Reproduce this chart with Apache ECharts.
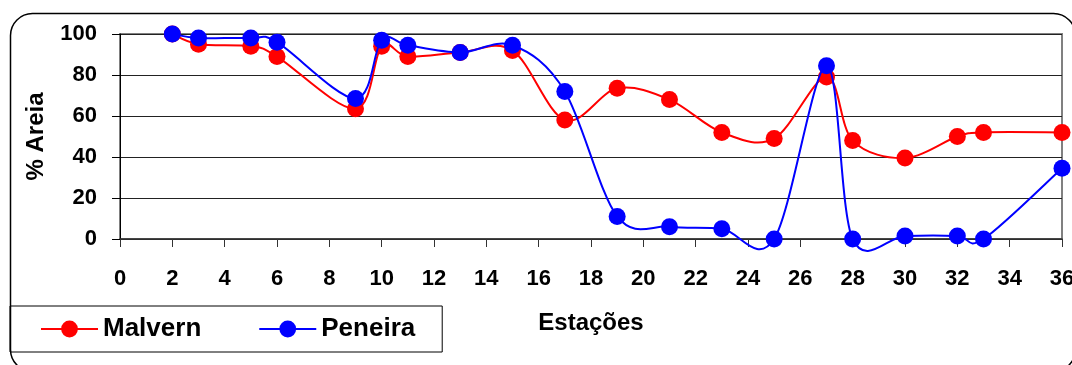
<!DOCTYPE html>
<html>
<head>
<meta charset="utf-8">
<script src="https://cdn.jsdelivr.net/npm/echarts@6/dist/echarts.min.js"></script>
<style>
  html, body { margin: 0; padding: 0; background: #fff; }
  #chart { width: 1072px; height: 365px; }
</style>
</head>
<body>
<div id="chart"></div>
<script>
// Sampling stations along the transect
const stations = [2, 3, 5, 6, 9, 10, 11, 13, 15, 17, 19, 21, 23, 25, 27, 28, 30, 32, 33, 36];
// Sand percentage by laser diffraction (Malvern)
const malvern = [100, 95, 94, 89, 63.5, 94, 89, 91, 92, 58, 73.5, 68, 52, 49, 79, 48, 39.5, 50, 52, 52];
// Sand percentage by sieving (Peneira)
const peneira = [100, 98, 98, 96, 68.5, 97, 94.5, 91, 94.5, 72, 11, 6, 5, 0, 84.5, 0, 1.5, 1.5, 0, 34.5];

const seriesNames = ['Malvern', 'Peneira'];
const colors = ['#ff0000', '#0000ff'];
const xTitle = 'Estações';
const yTitle = '% Areia';

const FONT = '"Liberation Sans", Arial, sans-serif';

function pairs(xs, ys) {
  return xs.map((x, i) => [x, ys[i]]);
}

// Catmull-Rom style smoothing: each data item draws the cubic segment
// to the next station, with control points from its neighbours (in pixels).
function smoothSegmentRenderer(values, color) {
  return function (params, api) {
    const i = params.dataIndex;
    const n = stations.length;
    if (i >= n - 1) return null;
    const pt = (j) => api.coord([stations[Math.max(0, Math.min(n - 1, j))], values[Math.max(0, Math.min(n - 1, j))]]);
    const p0 = pt(i - 1), p1 = pt(i), p2 = pt(i + 1), p3 = pt(i + 2);
    const k = 1 / 6;
    return {
      type: 'bezierCurve',
      shape: {
        x1: p1[0], y1: p1[1],
        x2: p2[0], y2: p2[1],
        cpx1: p1[0] + (p2[0] - p0[0]) * k,
        cpy1: p1[1] + (p2[1] - p0[1]) * k,
        cpx2: p2[0] - (p3[0] - p1[0]) * k,
        cpy2: p2[1] - (p3[1] - p1[1]) * k
      },
      style: { stroke: color, lineWidth: 2, fill: null }
    };
  };
}

const chart = echarts.init(document.getElementById('chart'), null, { renderer: 'canvas' });

chart.setOption({
  animation: false,
  backgroundColor: '#fff',
  graphic: [{
    type: 'rect',
    z: -10,
    shape: { x: 10.5, y: 13.5, width: 1065, height: 358, r: 22 },
    style: { fill: 'none', stroke: '#000', lineWidth: 1.5 }
  }],
  grid: {
    left: 120, right: 10, top: 34, bottom: 126,
    containLabel: false,
    outerBoundsMode: 'none',
    show: true,
    borderColor: '#808080',
    borderWidth: 2,
    backgroundColor: 'transparent'
  },
  legend: {
    left: 10,
    top: 306,
    orient: 'horizontal',
    padding: [10, 27, 10, 30],
    itemWidth: 57,
    itemHeight: 21,
    itemGap: 57,
    borderColor: '#000',
    borderWidth: 1,
    textStyle: { fontFamily: FONT, fontWeight: 'bold', fontSize: 26, color: '#000', lineHeight: 24 },
    data: seriesNames.map((name, i) => ({
      name: name,
      lineStyle: { color: colors[i], width: 2, opacity: 1 },
      itemStyle: { color: colors[i] }
    }))
  },
  xAxis: {
    type: 'value',
    min: 0, max: 36, interval: 2,
    name: xTitle,
    nameLocation: 'middle',
    nameGap: 72,
    nameTextStyle: { fontFamily: FONT, fontWeight: 'bold', fontSize: 24, color: '#000' },
    axisLine: { show: true, onZero: false, lineStyle: { color: '#333', width: 1.5 } },
    axisTick: { show: true, length: 8, inside: false, lineStyle: { color: '#333', width: 1 } },
    axisLabel: { fontFamily: FONT, fontWeight: 'bold', fontSize: 22, color: '#000', margin: 29 },
    splitLine: { show: false }
  },
  yAxis: {
    type: 'value',
    min: 0, max: 100, interval: 20,
    name: yTitle,
    nameLocation: 'middle',
    nameGap: 72,
    nameRotate: 90,
    nameTextStyle: { fontFamily: FONT, fontWeight: 'bold', fontSize: 24, color: '#000' },
    axisLine: { show: true, lineStyle: { color: '#000', width: 1 } },
    axisTick: { show: true, length: 8, inside: false, lineStyle: { color: '#000', width: 1 } },
    axisLabel: { fontFamily: FONT, fontWeight: 'bold', fontSize: 22, color: '#000', margin: 23 },
    splitLine: { show: true, lineStyle: { color: '#222', width: 1 } }
  },
  series: [
    {
      name: seriesNames[0],
      type: 'line',
      data: pairs(stations, malvern),
      clip: false,
      symbol: 'circle',
      symbolSize: 17,
      lineStyle: { color: colors[0], width: 2, opacity: 0 },
      itemStyle: { color: colors[0], borderWidth: 0 },
      z: 3
    },
    {
      name: seriesNames[1],
      type: 'line',
      data: pairs(stations, peneira),
      clip: false,
      symbol: 'circle',
      symbolSize: 17,
      lineStyle: { color: colors[1], width: 2, opacity: 0 },
      itemStyle: { color: colors[1], borderWidth: 0 },
      z: 5
    },
    {
      name: 'Malvern (curva)',
      type: 'custom',
      data: pairs(stations, malvern),
      clip: false,
      silent: true,
      renderItem: smoothSegmentRenderer(malvern, colors[0]),
      z: 2
    },
    {
      name: 'Peneira (curva)',
      type: 'custom',
      data: pairs(stations, peneira),
      clip: false,
      silent: true,
      renderItem: smoothSegmentRenderer(peneira, colors[1]),
      z: 4
    }
  ]
});
</script>
</body>
</html>
